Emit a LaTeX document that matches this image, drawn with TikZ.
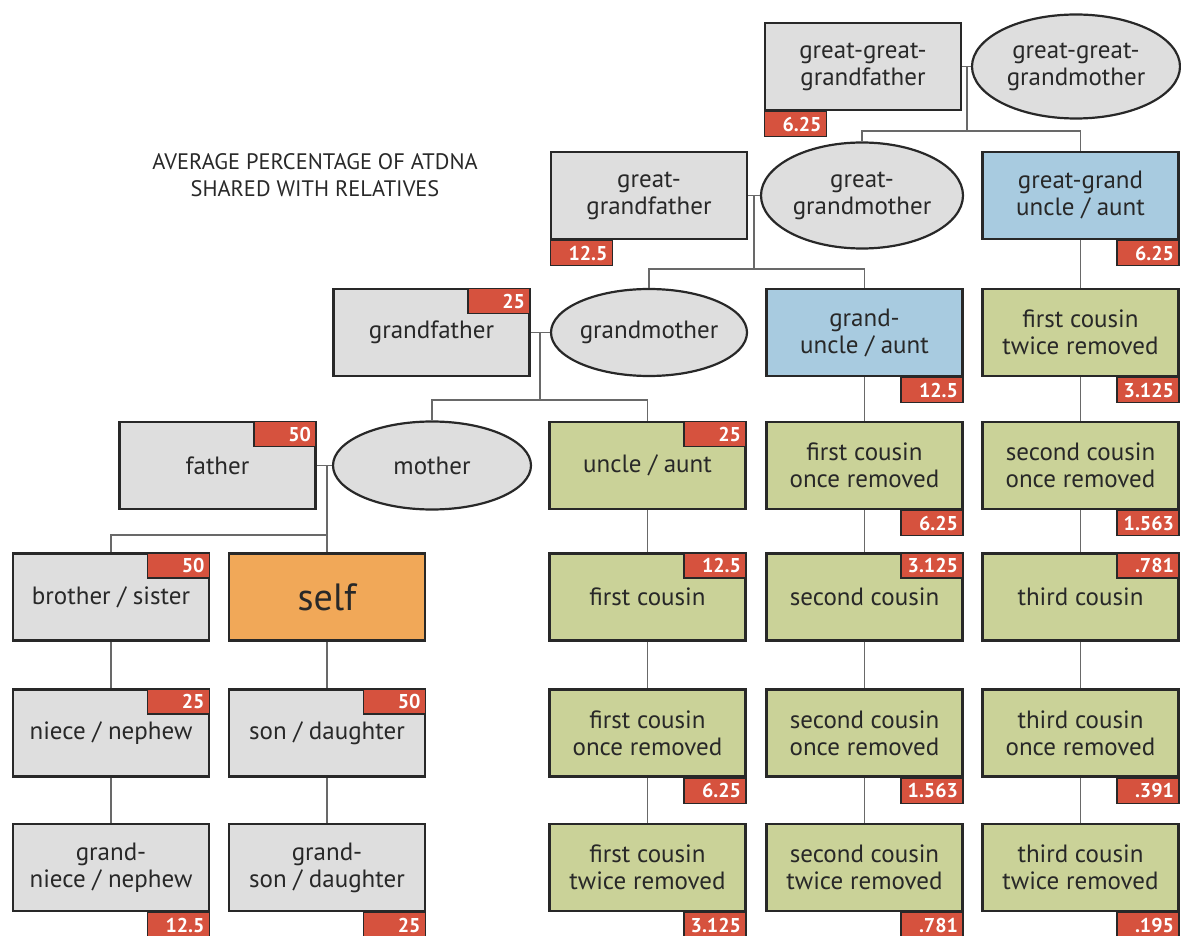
\documentclass[tikz,border=0pt]{standalone}
\usepackage{fontspec}
\setmainfont{PT Sans}
\usetikzlibrary{shapes.geometric}
\definecolor{aa}{RGB}{222, 222, 222}
\definecolor{bb}{RGB}{202, 210, 152}
\definecolor{cc}{RGB}{168, 203, 224}
\definecolor{dd}{RGB}{241, 168, 88}
\definecolor{ee}{RGB}{214, 82, 62}
\definecolor{ff}{RGB}{40, 40, 40}
\definecolor{gg}{RGB}{105, 105, 105}

\begin{document}
\begin{tikzpicture}[
box/.style={rectangle, minimum width=196pt, minimum height=87pt, inner sep=0pt, draw=ff, line width=2.2pt, align=center, text=ff, font=\fontsize{25}{27}\selectfont},
oval/.style={ellipse, fill=aa, inner sep=0pt, draw=ff, line width=2.2pt, align=center, text=ff, font=\fontsize{25}{27}\selectfont},
tag/.style={fill=ee, draw=ff, line width=1.2pt, minimum height=25pt, text width=52pt, inner xsep=5pt, inner ysep=0pt, align=right, text=white, font=\bfseries\fontsize{20}{20}\selectfont},
link/.style={line width=1.6pt, color=gg}]
\useasboundingbox (0pt, 0pt) rectangle (1181pt, -936pt);
\node (t) [align=center, text=ff, font=\fontsize{22.4}{27}\selectfont] at (315pt, -175pt) {AVERAGE PERCENTAGE OF ATDNA\\SHARED WITH RELATIVES};
\node (1) [box, fill=aa] at (863pt, -66.5pt) {great-great-\\grandfather};
\node (2) [oval, minimum width=208pt, minimum height=104pt] at (1076pt, -66.5pt) {great-great-\\grandmother};
\node (3) [box, fill=aa] at (649pt, -195.5pt) {great-\\grandfather};
\node (4) [oval, minimum width=202pt, minimum height=106pt] at (862pt, -195.5pt) {great-\\grandmother};
\node (5) [box, fill=cc] at (1080.5pt, -195.5pt) {great-grand\\uncle / aunt};
\node (6) [box, fill=aa] at (431.5pt, -332.5pt) {grandfather};
\node (7) [oval, minimum width=196pt, minimum height=87pt] at (649pt, -332.5pt) {grandmother};
\node (8) [box, fill=cc] at (864.5pt, -332.5pt) {grand-\\uncle / aunt};
\node (9) [box, fill=bb] at (1080.5pt, -332.5pt) {first cousin\\twice removed};
\node (10) [box, fill=aa] at (217.5pt, -465.5pt) {father};
\node (11) [oval, minimum width=198pt, minimum height=88pt] at (432pt, -465.5pt) {mother};
\node (12) [box, fill=bb] at (647.5pt, -465.5pt) {uncle / aunt};
\node (13) [box, fill=bb] at (864.5pt, -465.5pt) {first cousin\\once removed};
\node (14) [box, fill=bb] at (1080.5pt, -465.5pt) {second cousin\\once removed};
\node (15) [box, fill=aa] at (111pt, -597pt) {brother / sister};
\node (16) [box, fill=dd, font=\fontsize{38}{40}\selectfont] at (327pt, -597pt) {self};
\node (17) [box, fill=bb] at (647.5pt, -597pt) {first cousin};
\node (18) [box, fill=bb] at (864.5pt, -597pt) {second cousin};
\node (19) [box, fill=bb] at (1080.5pt, -597pt) {third cousin};
\node (20) [box, fill=aa] at (111pt, -733pt) {niece / nephew};
\node (21) [box, fill=aa] at (327pt, -733pt) {son / daughter};
\node (22) [box, fill=bb] at (647.5pt, -733pt) {first cousin\\once removed};
\node (23) [box, fill=bb] at (864.5pt, -733pt) {second cousin\\once removed};
\node (24) [box, fill=bb] at (1080.5pt, -733pt) {third cousin\\once removed};
\node (25) [box, fill=aa] at (111pt, -867.5pt) {grand-\\niece / nephew};
\node (26) [box, fill=aa] at (327pt, -867.5pt) {grand-\\son / daughter};
\node (27) [box, fill=bb] at (647.5pt, -867.5pt) {first cousin\\twice removed};
\node (28) [box, fill=bb] at (864.5pt, -867.5pt) {second cousin\\twice removed};
\node (29) [box, fill=bb] at (1080.5pt, -867.5pt) {third cousin\\twice removed};
\node (1b) [tag, anchor=north west] at (1.south west) {6.25};
\node (3b) [tag, anchor=north west] at (3.south west) {12.5};
\node (5b) [tag, anchor=north east] at (5.south east) {6.25};
\node (6b) [tag, anchor=north east] at (6.north east) {25};
\node (8b) [tag, anchor=north east] at (8.south east) {12.5};
\node (9b) [tag, anchor=north east] at (9.south east) {3.125};
\node (10b) [tag, anchor=north east] at (10.north east) {50};
\node (12b) [tag, anchor=north east] at (12.north east) {25};
\node (13b) [tag, anchor=north east] at (13.south east) {6.25};
\node (14b) [tag, anchor=north east] at (14.south east) {1.563};
\node (15b) [tag, anchor=north east] at (15.north east) {50};
\node (17b) [tag, anchor=north east] at (17.north east) {12.5};
\node (18b) [tag, anchor=north east] at (18.north east) {3.125};
\node (19b) [tag, anchor=north east] at (19.north east) {.781};
\node (20b) [tag, anchor=north east] at (20.north east) {25};
\node (21b) [tag, anchor=north east] at (21.north east) {50};
\node (22b) [tag, anchor=north east] at (22.south east) {6.25};
\node (23b) [tag, anchor=north east] at (23.south east) {1.563};
\node (24b) [tag, anchor=north east] at (24.south east) {.391};
\node (25b) [tag, anchor=north east] at (25.south east) {12.5};
\node (26b) [tag, anchor=north east] at (26.south east) {25};
\node (27b) [tag, anchor=north east] at (27.south east) {3.125};
\node (28b) [tag, anchor=north east] at (28.south east) {.781};
\node (29b) [tag, anchor=north east] at (29.south east) {.195};
\coordinate (j1) at (967pt, -66.5pt);
\coordinate (k1) at (967pt, -131pt);
\coordinate (j2) at (754pt, -195.5pt);
\coordinate (k2) at (754pt, -269pt);
\coordinate (j3) at (540pt, -332.5pt);
\coordinate (k3) at (540pt, -400pt);
\coordinate (j4) at (327pt, -465.5pt);
\coordinate (k4) at (327pt, -535pt);
\draw [link] (1) to  (2);
\draw [link] (j1) to  (k1);
\draw [link] (k1) -|  (4);
\draw [link] (k1) -|  (5);
\draw [link] (3) to  (4);
\draw [link] (j2) to  (k2);
\draw [link] (k2) -|  (7);
\draw [link] (k2) -|  (8);
\draw [link] (6) to  (7);
\draw [link] (j3) to  (k3);
\draw [link] (k3) -|  (11);
\draw [link] (k3) -|  (12);
\draw [link] (10) to  (11);
\draw [link] (j4) to  (k4);
\draw [link] (k4) -|  (15);
\draw [link] (k4) to  (16);
\draw [link] (5) to  (9);
\draw [link] (8) to  (13);
\draw [link] (9) to  (14);
\draw [link] (12) to  (17);
\draw [link] (13) to  (18);
\draw [link] (14) to  (19);
\draw [link] (17) to  (22);
\draw [link] (18) to  (23);
\draw [link] (19) to  (24);
\draw [link] (22) to  (27);
\draw [link] (23) to  (28);
\draw [link] (24) to  (29);
\draw [link] (15) to  (20);
\draw [link] (20) to  (25);
\draw [link] (16) to  (21);
\draw [link] (21) to  (26);
\end{tikzpicture}
\end{document}
